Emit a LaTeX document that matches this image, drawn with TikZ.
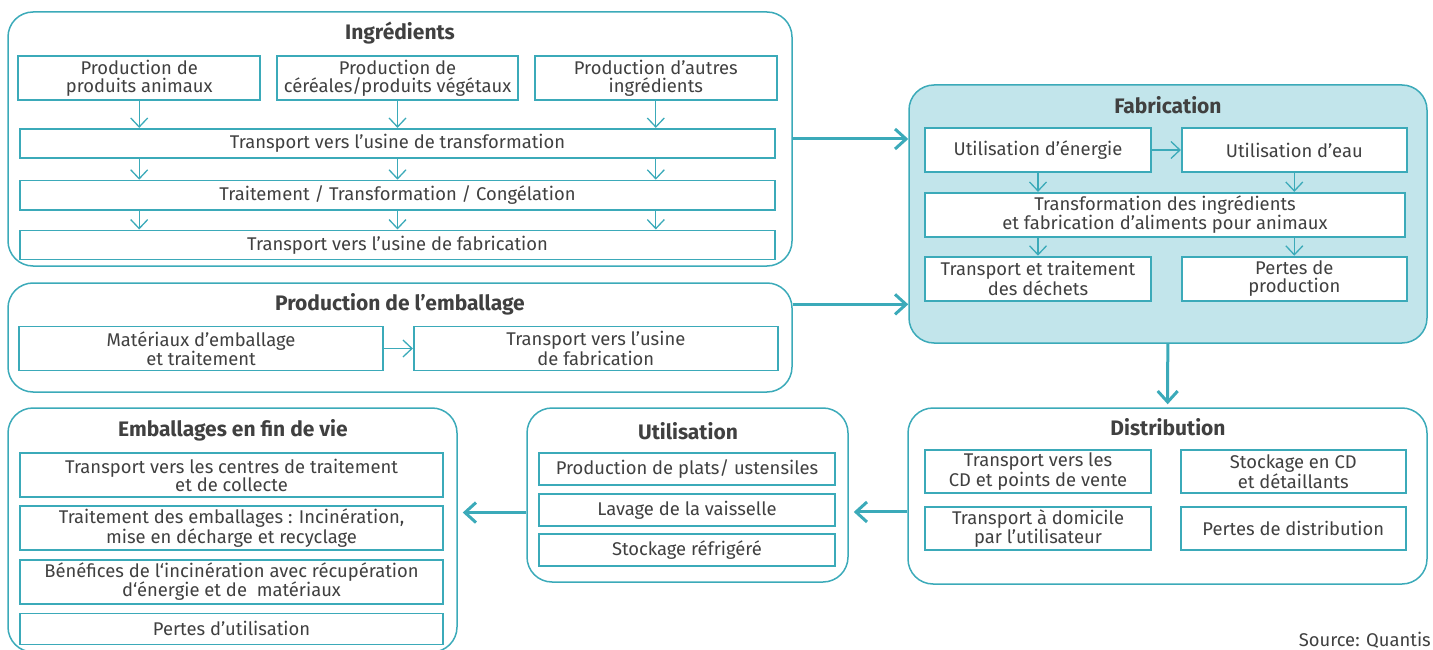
\documentclass[tikz,border=0pt]{standalone}
\usepackage{fontspec}
\setmainfont{Fira Sans}
\usetikzlibrary{positioning}
\usetikzlibrary{calc}
\usetikzlibrary{arrows.meta}
\definecolor{qteal}{RGB}{59,170,185}
\definecolor{qfill}{RGB}{194,229,235}
\definecolor{qtext}{RGB}{64,64,64}

\begin{document}
\begin{tikzpicture}[x=1pt, y=-1pt,
		phase/.style={rectangle,rounded corners=25pt,draw=qteal,line width=1.5pt,inner sep=0pt},
		title/.style={font=\fontsize{21}{23}\selectfont\bfseries,text=qtext,inner sep=0pt},
		cnode/.style={rectangle,draw=qteal,fill=white,line width=1.8pt,inner sep=0pt,align=center,text=qtext,font=\fontsize{18.4}{18}\selectfont,minimum height=44pt},
		smallarrow/.style={draw=qteal,line width=1.3pt,-{Straight Barb[length=9pt,width=17pt]}},
		bigarrow/.style={draw=qteal,line width=3pt,-{Straight Barb[length=11pt,width=20pt]}}]
		\useasboundingbox (0,0) rectangle (1433,650);
		% Ingredients
		\node[phase,minimum width=784pt,minimum height=254pt] (ingr) at (400,139) {};
		\node[title] (ingrT) at (400,33) {Ingrédients};
		\node[cnode,minimum width=241pt] (prodB) at (397.5,78) {Production de\\céréales/produits végétaux};
		\node[cnode,minimum width=242pt,left=15pt of prodB] (prodA) {Production de\\produits animaux};
		\node[cnode,minimum width=242pt,right=15pt of prodB] (prodC) {Production d’autres\\ingrédients};
		\node[cnode,minimum width=755pt,minimum height=29pt,below=27pt of prodB] (usineT) {Transport vers l’usine de transformation};
		\node[cnode,minimum width=755pt,minimum height=29pt,below=21pt of usineT] (traitmt) {Traitement / Transformation / Congélation};
		\node[cnode,minimum width=755pt,minimum height=29pt,below=19pt of traitmt] (usineF) {Transport vers l’usine de fabrication};
		\foreach \p in {prodA,prodB,prodC} {
			\draw[smallarrow] (\p) -- (\p |- usineT.north);
			\draw[smallarrow] (usineT.south -| \p) -- (traitmt.north -| \p);
			\draw[smallarrow] (traitmt.south -| \p) -- (usineF.north -| \p);
		}
		% Fabrication
		\node[phase,fill=qfill,minimum width=518pt,minimum height=258pt] (fab) at (1168,214) {};
		\node[title] (fabT) at (1168,105) {Fabrication};
		\node[cnode,minimum width=226pt] (energie) at (1038,150) {Utilisation d’énergie};
		\node[cnode,minimum width=225pt,right=29pt of energie] (eau) {Utilisation d’eau};
		\node[cnode,minimum width=480pt,below=19pt of energie.south west,anchor=north west] (transfo) {Transformation des ingrédients\\et fabrication d’aliments pour animaux};
		\node[cnode,minimum width=226pt,below=18pt of transfo.south west,anchor=north west] (dechets) {Transport et traitement\\des déchets};
		\node[cnode,minimum width=225pt,right=29pt of dechets] (pertesP) {Pertes de\\production};
		\draw[smallarrow] (energie) -- (eau);
		\draw[smallarrow] (energie) -- (energie |- transfo.north);
		\draw[smallarrow] (eau) -- (eau |- transfo.north);
		\draw[smallarrow] (transfo.south -| energie) -- (dechets);
		\draw[smallarrow] (transfo.south -| eau) -- (pertesP);
		% Packaging
		\node[phase,minimum width=784pt,minimum height=109pt] (emb) at (400,337.5) {};
		\node[title] (embT) at (400,304) {Production de l’emballage};
		\node[cnode,minimum width=364pt] (materiaux) at (201,348.5) {Matériaux d’emballage\\et traitement};
		\node[cnode,minimum width=364pt,right=29pt of materiaux] (usineE) {Transport vers l’usine\\de fabrication};
		\draw[smallarrow] (materiaux) -- (usineE);
		\draw[bigarrow] (ingr.east) -- (ingr.east -| fab.west);
		\coordinate (embout) at ($(emb.east)!0.6!(emb.north east)$);
		\draw[bigarrow] (embout) -- (embout -| fab.west);
		% Distribution
		\node[phase,minimum width=519pt,minimum height=176pt] (distr) at (1167.5,496) {};
		\node[title] (distrT) at (1168,427) {Distribution};
		\node[cnode,minimum width=226pt,minimum height=43pt] (versCD) at (1038,471.5) {Transport vers les\\CD et points de vente};
		\node[cnode,minimum width=225pt,minimum height=43pt,right=28pt of versCD] (stockCD) {Stockage en CD\\et détaillants};
		\node[cnode,minimum width=226pt,minimum height=43pt,below=12pt of versCD] (domicile) {Transport à domicile\\par l’utilisateur};
		\node[cnode,minimum width=225pt,minimum height=43pt,below=12pt of stockCD] (pertesD) {Pertes de distribution};
		\draw[bigarrow,shorten >=3pt] (fab) -- (distr);
		% Utilisation
		\node[phase,minimum width=321pt,minimum height=174pt] (util) at (687.5,495) {};
		\node[title] (utilT) at (688,431) {Utilisation};
		\node[cnode,minimum width=296pt,minimum height=32pt] (plats) at (687,469) {Production de plats/ ustensiles};
		\node[cnode,minimum width=296pt,minimum height=32pt,below=7pt of plats] (lavage) {Lavage de la vaisselle};
		\node[cnode,minimum width=296pt,minimum height=32pt,below=6pt of lavage] (frigo) {Stockage réfrigéré};
		\coordinate (distout) at ($(distr.west)!0.18!(distr.south west)$);
		\draw[bigarrow,shorten >=5pt] (distout) -- (distout -| util.east);
		% End of life
		\node[phase,minimum width=449pt,minimum height=244pt] (fin) at (232.5,530) {};
		\node[title] (finT) at (233,430) {Emballages en fin de vie};
		\node[cnode,minimum width=423pt] (centres) at (231.5,475) {Transport vers les centres de traitement\\et de collecte};
		\node[cnode,minimum width=423pt,below=7pt of centres] (incin) {Traitement des emballages : Incinération,\\mise en décharge et recyclage};
		\node[cnode,minimum width=423pt,below=8pt of incin] (benef) {Bénéfices de l‘incinération avec récupération\\d‘énergie et de\ \ matériaux};
		\node[cnode,minimum width=423pt,minimum height=31pt,below=8pt of benef] (pertesU) {Pertes d’utilisation};
		\coordinate (utilout) at ($(util.west)!0.2!(util.south west)$);
		\draw[bigarrow,shorten >=5pt] (utilout) -- (utilout -| fin.east);
		\node[font=\fontsize{18.4}{18}\selectfont,text=qtext,anchor=south east,inner sep=0pt] (source) at (1431,649) {Source: Quantis};
	\end{tikzpicture}
\end{document}
